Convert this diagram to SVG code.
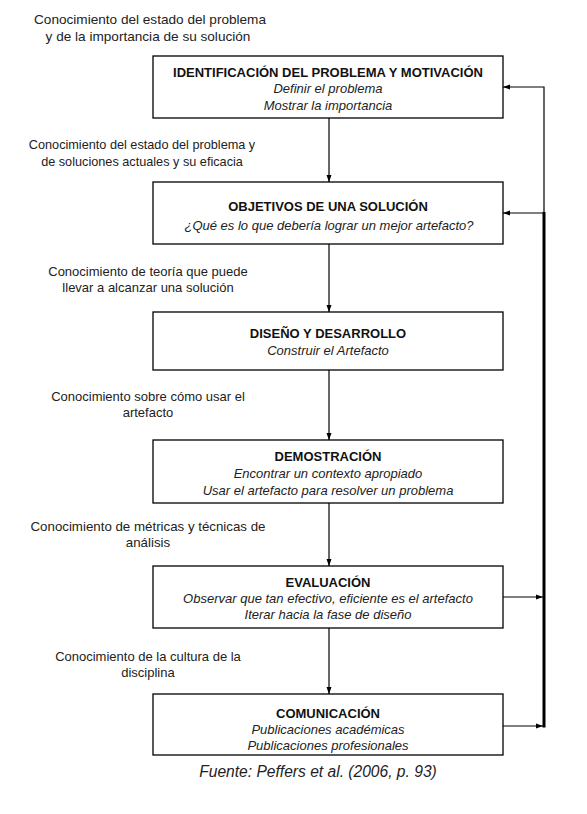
<svg xmlns="http://www.w3.org/2000/svg" width="587" height="814" viewBox="0 0 587 814">
<style>
.box{fill:#fff;stroke:#000;stroke-width:1.3}
.t{font-family:"Liberation Sans",Arial,sans-serif;font-size:13px;font-weight:bold;text-anchor:middle;fill:#111}
.s{font-family:"Liberation Sans",Arial,sans-serif;font-size:13px;font-style:italic;text-anchor:middle;fill:#222}
.l{font-family:"Liberation Sans",Arial,sans-serif;font-size:13px;text-anchor:middle;fill:#222}
.c{font-family:"Liberation Sans",Arial,sans-serif;font-size:15.6px;font-style:italic;text-anchor:middle;fill:#222}
.e{fill:none;stroke:#000;stroke-width:1.2}
</style>
<defs>
<marker id="ah" markerUnits="userSpaceOnUse" markerWidth="8" markerHeight="6" refX="7" refY="3" orient="auto">
<path d="M0,0.5 L7,3 L0,5.5 z" fill="#000"/>
</marker>
</defs>
<rect width="587" height="814" fill="#fff"/>

<g id="labels">
<text class="l" x="150" y="24" style="font-size:13.6px">Conocimiento del estado del problema</text>
<text class="l" x="148" y="41" style="font-size:13.6px">y de la importancia de su solución</text>
<text class="l" x="142" y="149" style="font-size:12.7px">Conocimiento del estado del problema y</text>
<text class="l" x="142" y="166" style="font-size:12.7px">de soluciones actuales y su eficacia</text>
<text class="l" x="148" y="276">Conocimiento de teoría que puede</text>
<text class="l" x="148" y="292">llevar a alcanzar una solución</text>
<text class="l" x="148" y="401">Conocimiento sobre cómo usar el</text>
<text class="l" x="148" y="417">artefacto</text>
<text class="l" x="148" y="531" style="font-size:13.3px">Conocimiento de métricas y técnicas de</text>
<text class="l" x="148" y="547" style="font-size:13.3px">análisis</text>
<text class="l" x="148" y="661">Conocimiento de la cultura de la</text>
<text class="l" x="148" y="677">disciplina</text>
</g>

<g id="n1">
<rect class="box" x="153" y="56" width="350" height="62"/>
<text class="t" x="328" y="77">IDENTIFICACIÓN DEL PROBLEMA Y MOTIVACIÓN</text>
<text class="s" x="328" y="93">Definir el problema</text>
<text class="s" x="328" y="110">Mostrar la importancia</text>
</g>
<g id="n2">
<rect class="box" x="153" y="182" width="350" height="62"/>
<text class="t" x="328" y="211">OBJETIVOS DE UNA SOLUCIÓN</text>
<text class="s" x="329" y="230">¿Qué es lo que debería lograr un mejor artefacto?</text>
</g>
<g id="n3">
<rect class="box" x="153" y="312" width="350" height="58"/>
<text class="t" x="328" y="338">DISEÑO Y DESARROLLO</text>
<text class="s" x="328" y="355">Construir el Artefacto</text>
</g>
<g id="n4">
<rect class="box" x="153" y="440" width="350" height="63"/>
<text class="t" x="328" y="461">DEMOSTRACIÓN</text>
<text class="s" x="328" y="478">Encontrar un contexto apropiado</text>
<text class="s" x="328" y="495">Usar el artefacto para resolver un problema</text>
</g>
<g id="n5">
<rect class="box" x="153" y="566" width="350" height="62"/>
<text class="t" x="328" y="587">EVALUACIÓN</text>
<text class="s" x="328" y="603">Observar que tan efectivo, eficiente es el artefacto</text>
<text class="s" x="328" y="619">Iterar hacia la fase de diseño</text>
</g>
<g id="n6">
<rect class="box" x="153" y="694" width="350" height="61"/>
<text class="t" x="328" y="718">COMUNICACIÓN</text>
<text class="s" x="328" y="734">Publicaciones académicas</text>
<text class="s" x="328" y="750">Publicaciones profesionales</text>
</g>

<g id="connectors">
<line class="e" x1="329" y1="118" x2="329" y2="182" marker-end="url(#ah)"/>
<line class="e" x1="329" y1="244" x2="329" y2="312" marker-end="url(#ah)"/>
<line class="e" x1="329" y1="370" x2="329" y2="440" marker-end="url(#ah)"/>
<line class="e" x1="329" y1="503" x2="329" y2="566" marker-end="url(#ah)"/>
<line class="e" x1="329" y1="628" x2="329" y2="694" marker-end="url(#ah)"/>
<polyline class="e" points="544,213 544,87 503,87" marker-end="url(#ah)"/>
<line class="e" x1="544" y1="213" x2="503" y2="213" marker-end="url(#ah)"/>
<line x1="544" y1="212" x2="544" y2="727.5" stroke="#000" stroke-width="3"/>
<line class="e" x1="503" y1="597" x2="543" y2="597" marker-end="url(#ah)"/>
<line class="e" x1="503" y1="726" x2="543" y2="726" marker-end="url(#ah)"/>
</g>

<text class="c" x="318" y="777">Fuente: Peffers et al. (2006, p. 93)</text>
</svg>
